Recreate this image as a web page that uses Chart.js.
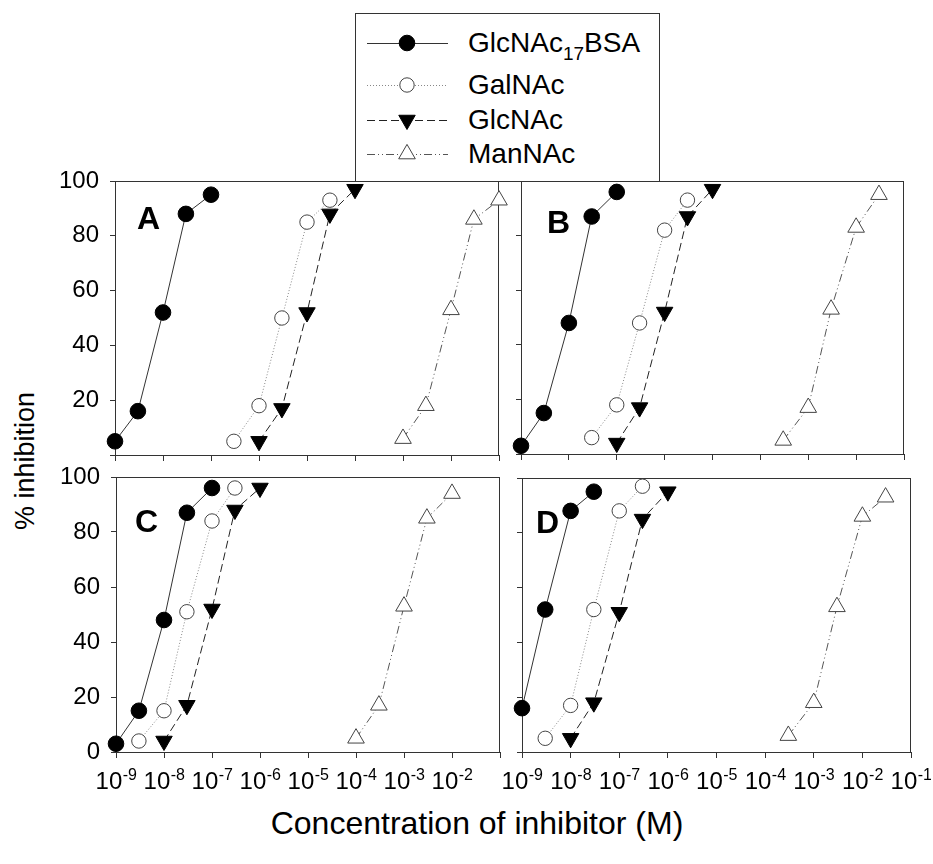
<!DOCTYPE html>
<html>
<head>
<meta charset="utf-8">
<title>Inhibition curves</title>
<script src="https://cdn.jsdelivr.net/npm/chart.js@4.4.1/dist/chart.umd.min.js"></script>
<style>
  body { margin: 0; background: #fff; }
  #page { position: relative; width: 933px; height: 864px; overflow: hidden; font-family: "Liberation Sans", Arial, sans-serif; color: #000; }
  #page canvas { position: absolute; }
  #legend { position: absolute; left: 355px; top: 13px; width: 305px; height: 169px; box-sizing: border-box; border: 1px solid #333; background: #fff; }
  .lg-row { position: absolute; left: 0; height: 30px; }
  .lg-row svg { position: absolute; left: 10px; top: 0; }
  .lg-row span { position: absolute; left: 112px; top: 0; line-height: 30px; font-size: 28px; white-space: nowrap; }
  .lg-row sub { font-size: 19px; vertical-align: -8px; line-height: 0; }
  #ytitle { position: absolute; left: 25px; top: 461px; transform: translate(-50%, -50%) rotate(-90deg); font-size: 27px; white-space: nowrap; }
  #xtitle { position: absolute; left: 477px; top: 823px; transform: translate(-50%, -50%); font-size: 32px; white-space: nowrap; }
</style>
</head>
<body>
<div id="page">
  <div id="ytitle">% inhibition</div>
  <div id="xtitle">Concentration of inhibitor (M)</div>
</div>
<script>
// series
const seriesNames = ["GlcNAc17BSA", "GalNAc", "GlcNAc", "ManNAc"];

// panel A: concentration (M) and % inhibition
const concA_bsa = [1e-9, 3e-9, 1e-8, 3e-8, 1e-7];
const inhA_bsa = [5, 16, 52, 88, 95];
const concA_gal = [3e-7, 1e-6, 3e-6, 1e-5, 3e-5];
const inhA_gal = [5, 18, 50, 85, 93];
const concA_glc = [1e-6, 3e-6, 1e-5, 3e-5, 1e-4];
const inhA_glc = [5, 17, 52, 88, 97];
const concA_man = [1e-3, 3e-3, 1e-2, 3e-2, 1e-1];
const inhA_man = [6, 18, 53, 86, 93];

// panel B
const concB_bsa = [1e-9, 3e-9, 1e-8, 3e-8, 1e-7];
const inhB_bsa = [3, 15, 48, 87, 96];
const concB_gal = [3e-8, 1e-7, 3e-7, 1e-6, 3e-6];
const inhB_gal = [6, 18, 48, 82, 93];
const concB_glc = [1e-7, 3e-7, 1e-6, 3e-6, 1e-5];
const inhB_glc = [4, 17, 52, 87, 97];
const concB_man = [3e-4, 1e-3, 3e-3, 1e-2, 3e-2];
const inhB_man = [5, 17, 53, 83, 95];

// panel C
const concC_bsa = [1e-9, 3e-9, 1e-8, 3e-8, 1e-7];
const inhC_bsa = [3, 15, 48, 87, 96];
const concC_gal = [3e-9, 1e-8, 3e-8, 1e-7, 3e-7];
const inhC_gal = [4, 15, 51, 84, 96];
const concC_glc = [1e-8, 3e-8, 1e-7, 3e-7, 1e-6];
const inhC_glc = [4, 17, 52, 88, 96];
const concC_man = [1e-4, 3e-4, 1e-3, 3e-3, 1e-2];
const inhC_man = [5, 17, 53, 85, 94];

// panel D
const concD_bsa = [1e-9, 3e-9, 1e-8, 3e-8];
const inhD_bsa = [16, 52, 88, 95];
const concD_gal = [3e-9, 1e-8, 3e-8, 1e-7, 3e-7];
const inhD_gal = [5, 17, 52, 88, 97];
const concD_glc = [1e-8, 3e-8, 1e-7, 3e-7, 1e-6];
const inhD_glc = [5, 18, 51, 85, 95];
const concD_man = [3e-4, 1e-3, 3e-3, 1e-2, 3e-2];
const inhD_man = [6, 18, 53, 86, 93];

// axis ticks (x as powers of ten)
const xTickExps = [-9, -8, -7, -6, -5, -4, -3, -2, -1];
const xLabelExpsC = [-9, -8, -7, -6, -5, -4, -3, -2];
const xLabelExpsD = [-9, -8, -7, -6, -5, -4, -3, -2, -1];
const yTicks = [0, 20, 40, 60, 80, 100];

const FONT = '"Liberation Sans", Arial, sans-serif';
Chart.defaults.font.family = FONT;
Chart.defaults.color = "#000";

const styles = [
  { color: "#333", dash: [], point: "circle", radius: 7.8, fill: "#000", edge: "#000", rot: 0 },
  { color: "#888", dash: [1, 2], point: "circle", radius: 7.2, fill: "#fff", edge: "#444", rot: 0 },
  { color: "#222", dash: [8, 4], point: "triangle", radius: 9.5, fill: "#000", edge: "#000", rot: 180 },
  { color: "#555", dash: [8, 3, 1, 3, 1, 3], point: "triangle", radius: 9.6, fill: "#fff", edge: "#444", rot: 0 }
];

function pts(xs, ys) { return xs.map((x, i) => ({ x: x, y: ys[i] })); }

const panels = [
  { letter: "A", left: 115, top: 181, w: 384, h: 274, lx: 22, ly: 48, yLabels: "no0", xLabels: [],
    series: [pts(concA_bsa, inhA_bsa), pts(concA_gal, inhA_gal), pts(concA_glc, inhA_glc), pts(concA_man, inhA_man)] },
  { letter: "B", left: 521, top: 181, w: 383, h: 273, lx: 26, ly: 52, yLabels: "none", xLabels: [],
    series: [pts(concB_bsa, inhB_bsa), pts(concB_gal, inhB_gal), pts(concB_glc, inhB_glc), pts(concB_man, inhB_man)] },
  { letter: "C", left: 116, top: 477, w: 384, h: 275, lx: 19, ly: 55, yLabels: "all", xLabels: xLabelExpsC,
    series: [pts(concC_bsa, inhC_bsa), pts(concC_gal, inhC_gal), pts(concC_glc, inhC_glc), pts(concC_man, inhC_man)] },
  { letter: "D", left: 522, top: 478, w: 389, h: 274, lx: 14, ly: 55, yLabels: "none", xLabels: xLabelExpsD,
    series: [pts(concD_bsa, inhD_bsa), pts(concD_gal, inhD_gal), pts(concD_glc, inhD_glc), pts(concD_man, inhD_man)] }
];

// room around each plot area inside its canvas (top must exceed the y label overflow)
const YW = 70, XH = 60, PT = 32, PR = 20;

// frame, panel letter and 10^n tick labels
const panelDeco = {
  id: "panelDeco",
  beforeDatasetsDraw(chart, args, o) {
    const a = chart.chartArea, ctx = chart.ctx;
    ctx.save();
    ctx.strokeStyle = "#333";
    ctx.lineWidth = 1;
    ctx.strokeRect(Math.round(a.left) + 0.5, Math.round(a.top) + 0.5,
      Math.round(a.right - a.left) - 1, Math.round(a.bottom - a.top));
    ctx.fillStyle = "#000";
    ctx.font = "bold 32px " + FONT;
    ctx.textBaseline = "alphabetic";
    ctx.fillText(o.letter, a.left + o.lx, a.top + o.ly);
    ctx.restore();
  },
  afterDraw(chart, args, o) {
    const ctx = chart.ctx, xs = chart.scales.x, y0 = chart.chartArea.bottom;
    ctx.save();
    ctx.fillStyle = "#000";
    ctx.textBaseline = "alphabetic";
    ctx.textAlign = "left";
    o.exps.forEach(e => {
      const px = xs.getPixelForValue(Math.pow(10, e));
      ctx.font = "24px " + FONT;
      const w1 = ctx.measureText("10").width;
      ctx.font = "16px " + FONT;
      const w2 = ctx.measureText(String(e)).width;
      const left = px - (w1 + w2) / 2;
      ctx.font = "24px " + FONT;
      ctx.fillText("10", left, y0 + 37);
      ctx.font = "16px " + FONT;
      ctx.fillText(String(e), left + w1 + 0.5, y0 + 28);
    });
    ctx.restore();
  }
};

const page = document.getElementById("page");

panels.forEach(p => {
  const cv = document.createElement("canvas");
  cv.width = p.w + YW + PR;
  cv.height = p.h + PT + XH;
  cv.style.left = (p.left - YW) + "px";
  cv.style.top = (p.top - PT) + "px";
  page.appendChild(cv);

  const datasets = p.series.map((d, i) => ({
    label: seriesNames[i],
    data: d,
    borderColor: styles[i].color,
    borderWidth: 1,
    borderDash: styles[i].dash,
    pointStyle: styles[i].point,
    pointRadius: styles[i].radius,
    pointRotation: styles[i].rot,
    pointBackgroundColor: styles[i].fill,
    pointBorderColor: styles[i].edge,
    pointBorderWidth: 1,
    tension: 0,
    fill: false,
    clip: false
  }));

  new Chart(cv, {
    type: "line",
    data: { datasets: datasets },
    plugins: [panelDeco],
    options: {
      responsive: false,
      maintainAspectRatio: false,
      animation: false,
      devicePixelRatio: 1,
      layout: { padding: { top: PT, right: PR, left: 0, bottom: 0 } },
      plugins: {
        legend: { display: false },
        tooltip: { enabled: false },
        panelDeco: { letter: p.letter, lx: p.lx, ly: p.ly, exps: p.xLabels }
      },
      scales: {
        x: {
          type: "logarithmic",
          min: Math.pow(10, xTickExps[0]),
          max: Math.pow(10, xTickExps[xTickExps.length - 1]),
          afterBuildTicks: s => { s.ticks = xTickExps.map(e => ({ value: Math.pow(10, e) })); },
          afterFit: s => { s.height = XH; },
          border: { display: false },
          grid: { drawOnChartArea: false, drawTicks: true, tickLength: 6, color: "#333" },
          ticks: { display: false }
        },
        y: {
          type: "linear",
          min: 0,
          max: 100,
          afterBuildTicks: s => { s.ticks = yTicks.map(v => ({ value: v })); },
          afterFit: s => { s.width = YW; },
          border: { display: false },
          grid: { drawOnChartArea: false, drawTicks: true, tickLength: 5, color: "#333" },
          ticks: {
            display: p.yLabels !== "none",
            padding: 11,
            font: { size: 24 },
            color: "#000",
            callback: v => (p.yLabels === "no0" && v === 0) ? "" : String(v)
          }
        }
      }
    }
  });
});

// legend box
const legend = document.createElement("div");
legend.id = "legend";
const rowCenters = [29, 71, 106, 140];
seriesNames.forEach((name, i) => {
  const s = styles[i];
  const row = document.createElement("div");
  row.className = "lg-row";
  row.style.top = (rowCenters[i] - 15) + "px";
  const r = s.radius;
  let marker;
  if (s.point === "circle") {
    marker = `<circle cx="41" cy="15" r="${r}" fill="${s.fill}" stroke="${s.edge}" stroke-width="1"/>`;
  } else {
    const dir = s.rot === 180 ? -1 : 1;
    const yA = 15 - dir * r, yB = 15 + dir * r / 2, hw = r * Math.sqrt(3) / 2;
    marker = `<polygon points="41,${yA} ${41 - hw},${yB} ${41 + hw},${yB}" fill="${s.fill}" stroke="${s.edge}" stroke-width="1"/>`;
  }
  const dash = s.dash.length ? `stroke-dasharray="${s.dash.join(" ")}"` : "";
  row.innerHTML = `<svg width="90" height="30"><line x1="1" y1="15.5" x2="82" y2="15.5" stroke="${s.color}" stroke-width="1" ${dash}/>${marker}</svg>` +
    `<span>${name === "GlcNAc17BSA" ? "GlcNAc<sub>17</sub>BSA" : name}</span>`;
  legend.appendChild(row);
});
page.appendChild(legend);
</script>
</body>
</html>
